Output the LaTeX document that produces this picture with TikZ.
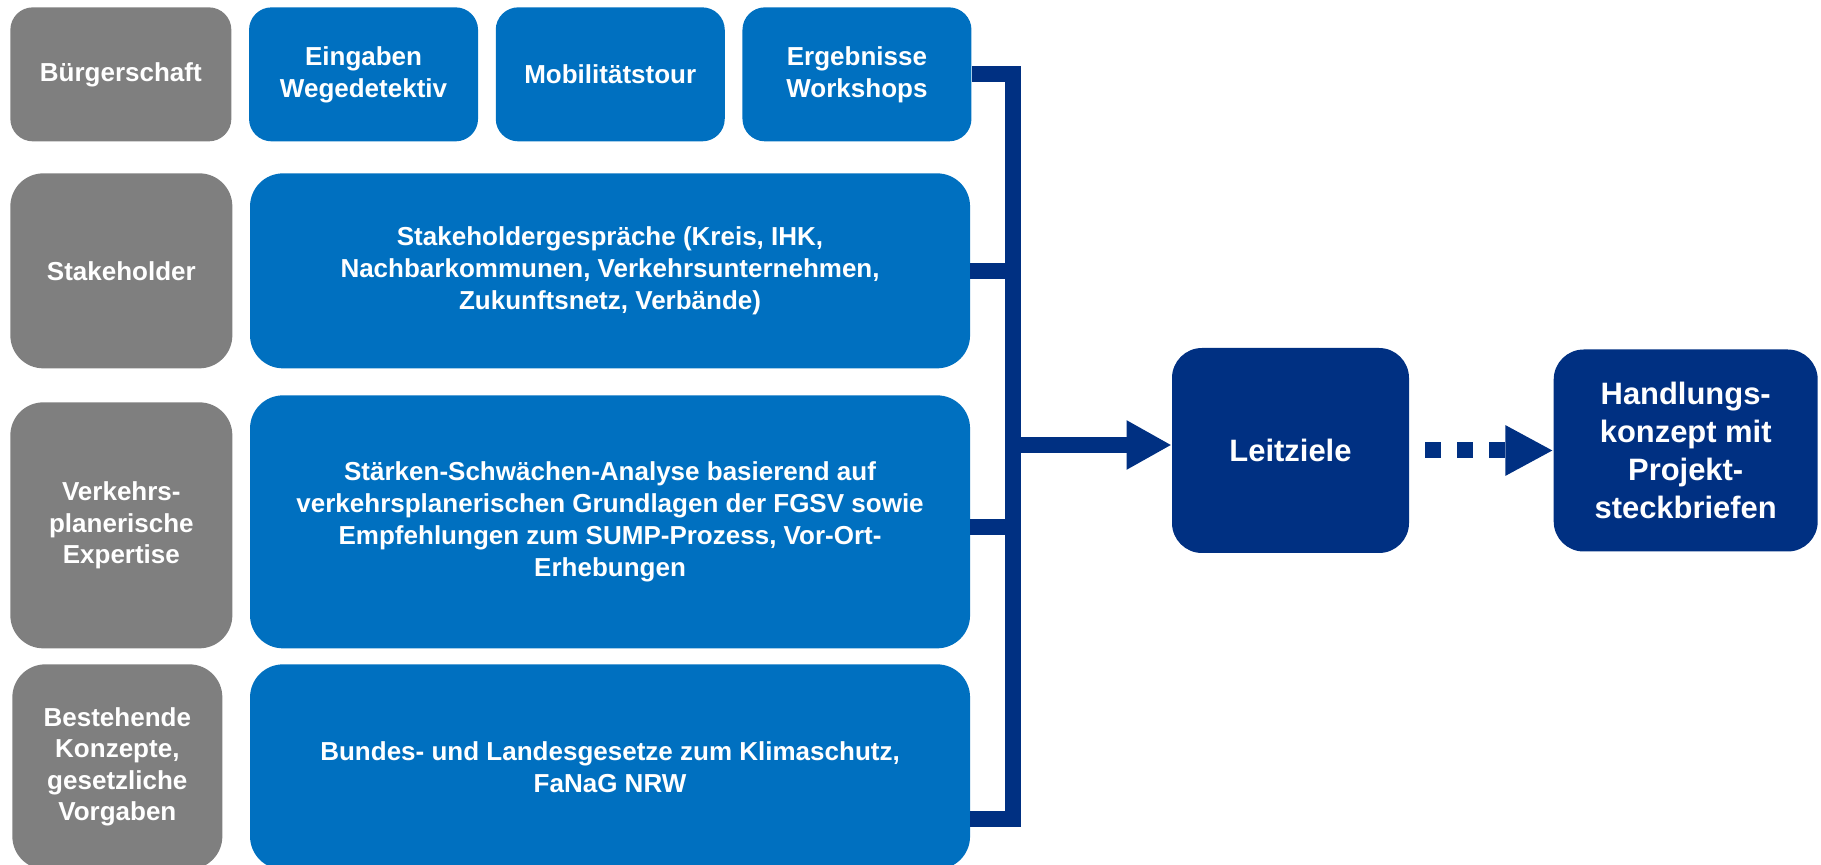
\documentclass[tikz,border=0pt]{standalone}
\usepackage{fontspec}
\setmainfont{Liberation Sans}
\usetikzlibrary{positioning, arrows.meta}
\definecolor{slate}{RGB}{127,127,127}
\definecolor{ppblue}{RGB}{0,112,192}
\definecolor{navy}{RGB}{0,48,130}
\tikzset{
    source/.style = {rectangle, fill=slate, text=white, align=center, inner sep=0pt, rounded corners=0.66cm, font=\bfseries\fontsize{14.8}{17.8}\selectfont},
    input/.style = {rectangle, fill=ppblue, text=white, align=center, inner sep=0pt, rounded corners=0.66cm, minimum width=14.4cm, font=\bfseries\fontsize{14.8}{18.2}\selectfont},
    goal/.style = {rectangle, fill=navy, text=white, align=center, inner sep=0pt, rounded corners=0.6cm, font=\bfseries\fontsize{17.6}{21.6}\selectfont},
    bus/.style = {draw=navy, line width=0.32cm},
    dotline/.style = {draw=navy, line width=0.32cm, dash pattern=on 0.32cm off 0.32cm, -{Triangle[length=0.96cm, width=0.94cm]}}
}

\begin{document}
\begin{tikzpicture}
        \useasboundingbox (0,0) rectangle (36.42,-17.30);

        % Sources
        \node [source, anchor=north west, minimum width=4.42cm, minimum height=2.68cm, rounded corners=0.45cm] (buerger) at (0.20,-0.14) {Bürgerschaft};
        \node [source, anchor=north west, minimum width=4.44cm, minimum height=3.90cm] (stakeholder) at (0.20,-3.46) {Stakeholder};
        \node [source, anchor=north west, minimum width=4.44cm, minimum height=4.92cm] (expertise) at (0.20,-8.04) {Verkehrs-\\planerische\\Expertise};
        \node [source, anchor=north west, minimum width=4.20cm, minimum height=4.10cm] (vorgaben) at (0.24,-13.28) {Bestehende\\Konzepte,\\gesetzliche\\Vorgaben};

        % Inputs
        \node [input, right=0.34cm of buerger, minimum width=4.58cm, minimum height=2.68cm, rounded corners=0.45cm] (wege) {Eingaben\\Wegedetektiv};
        \node [input, right=0.34cm of wege, minimum width=4.58cm, minimum height=2.68cm, rounded corners=0.45cm] (tour) {Mobilitätstour};
        \node [input, right=0.34cm of tour, minimum width=4.58cm, minimum height=2.68cm, rounded corners=0.45cm] (workshops) {Ergebnisse\\Workshops};
        \node [input, right=0.34cm of stakeholder, minimum height=3.90cm] (gespraeche) {Stakeholdergespräche (Kreis, IHK,\\Nachbarkommunen, Verkehrsunternehmen,\\Zukunftsnetz, Verbände)};
        \node [input, right=0.34cm of expertise.south east, anchor=south west, minimum height=5.06cm] (analyse) {Stärken-Schwächen-Analyse basierend auf\\verkehrsplanerischen Grundlagen der FGSV sowie\\Empfehlungen zum SUMP-Prozess, Vor-Ort-\\Erhebungen};
        \node [input, right=0.54cm of vorgaben, minimum height=4.10cm] (gesetze) {Bundes- und Landesgesetze zum Klimaschutz,\\FaNaG NRW};

        % Goals
        \node [goal, minimum width=4.74cm, minimum height=4.10cm] (leitziele) at (25.81,-9.01) {Leitziele};
        \node [goal, right=2.88cm of leitziele, minimum width=5.28cm, minimum height=4.04cm] (handlung) {Handlungs-\\konzept mit\\Projekt-\\steckbriefen};

        % Bus
        \coordinate (busend) at (20.26,-16.38);
        \draw [bus] (workshops.east) -| (busend) -- (gesetze.east |- busend);
        \draw [bus] (gespraeche.east) -- (gespraeche.east -| busend);
        \draw [bus] ([yshift=-0.11cm]analyse.east) -- ([yshift=-0.11cm]analyse.east -| busend);
        \draw [bus, -{Triangle[length=0.9cm, width=0.92cm]}] ([yshift=0.11cm]leitziele.west -| busend) -- ([yshift=0.11cm]leitziele.west);
        \draw [dotline] ([xshift=-0.32cm]leitziele.east) -- (handlung.west);

    \end{tikzpicture}
\end{document}
